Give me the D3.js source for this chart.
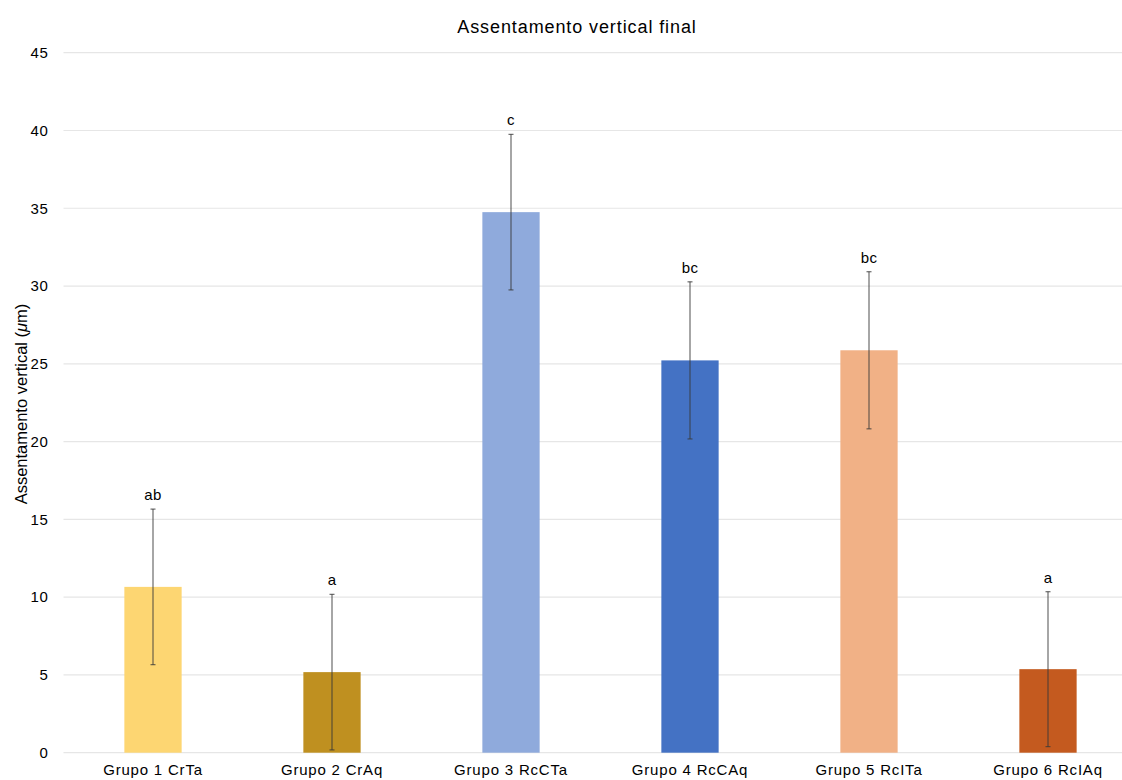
<!DOCTYPE html>
<html>
<head>
<meta charset="utf-8">
<script src="https://cdn.jsdelivr.net/npm/d3@7"></script>
<style>
  html, body { margin: 0; padding: 0; background: #fff; }
  svg { display: block; font-family: "Liberation Sans", Arial, Helvetica, sans-serif; }
</style>
</head>
<body>
<svg id="chart" width="1122" height="780"></svg>
<script>
// Group means, standard deviations and significance letters
const groups = ["Grupo 1 CrTa", "Grupo 2 CrAq", "Grupo 3 RcCTa", "Grupo 4 RcCAq", "Grupo 5 RcITa", "Grupo 6 RcIAq"];
const means = [10.66, 5.18, 34.75, 25.22, 25.87, 5.37];
const errors = [5.0, 5.0, 5.0, 5.05, 5.05, 4.98];
const letters = ["ab", "a", "c", "bc", "bc", "a"];
const colors = ["#FDD672", "#BF9020", "#8FAADC", "#4472C4", "#F1B186", "#C45A1F"];
const yTicks = [0, 5, 10, 15, 20, 25, 30, 35, 40, 45];

const svg = d3.select("#chart");
const W = 1122, H = 780;
const margin = { left: 63.5, right: -15.5, top: 52.7, bottom: 27.3 };

const x = d3.scaleBand()
  .domain(groups)
  .range([margin.left, W - margin.right])
  .paddingInner(0.68)
  .paddingOuter(0.34);

const y = d3.scaleLinear()
  .domain([0, 45])
  .range([H - margin.bottom, margin.top]);

// Horizontal gridlines
svg.append("g")
  .selectAll("line")
  .data(yTicks)
  .join("line")
  .attr("x1", margin.left)
  .attr("x2", W - margin.right)
  .attr("y1", d => y(d))
  .attr("y2", d => y(d))
  .attr("stroke", "#e6e6e6")
  .attr("stroke-width", 1.2);

// Y axis tick labels
const yAxis = d3.axisLeft(y).tickValues(yTicks).tickSize(0).tickPadding(15);
const gy = svg.append("g")
  .attr("transform", `translate(${margin.left},0)`)
  .call(yAxis);
gy.select(".domain").remove();
gy.selectAll("text")
  .attr("font-size", 15)
  .attr("letter-spacing", 0.6)
  .attr("fill", "#000")
  .style("font-family", "'Liberation Sans', Arial, sans-serif");

// Bars
svg.append("g")
  .selectAll("rect")
  .data(groups)
  .join("rect")
  .attr("x", d => x(d))
  .attr("width", x.bandwidth())
  .attr("y", (d, i) => y(means[i]))
  .attr("height", (d, i) => y(0) - y(means[i]))
  .attr("fill", (d, i) => colors[i]);

// Error bars
const eb = svg.append("g")
  .attr("stroke", "#3a3a3a")
  .attr("stroke-opacity", 0.75)
  .attr("stroke-width", 1.2);
groups.forEach((g, i) => {
  const cx = x(g) + x.bandwidth() / 2;
  const hi = y(means[i] + errors[i]);
  const lo = y(means[i] - errors[i]);
  eb.append("line").attr("x1", cx).attr("x2", cx).attr("y1", hi).attr("y2", lo);
  eb.append("line").attr("x1", cx - 2.5).attr("x2", cx + 2.5).attr("y1", hi).attr("y2", hi);
  eb.append("line").attr("x1", cx - 2.5).attr("x2", cx + 2.5).attr("y1", lo).attr("y2", lo);
});

// Significance letters
svg.append("g")
  .selectAll("text")
  .data(groups)
  .join("text")
  .attr("x", d => x(d) + x.bandwidth() / 2)
  .attr("y", (d, i) => y(means[i] + errors[i]) - 9)
  .attr("text-anchor", "middle")
  .attr("font-size", 15)
  .attr("letter-spacing", 0.4)
  .attr("fill", "#000")
  .text((d, i) => letters[i]);

// X axis category labels
const xAxis = d3.axisBottom(x).tickSize(0).tickPadding(12);
const gx = svg.append("g")
  .attr("transform", `translate(0,${y(0)})`)
  .call(xAxis);
gx.select(".domain").remove();
gx.selectAll("text")
  .attr("font-size", 15)
  .attr("letter-spacing", 0.8)
  .attr("fill", "#000")
  .style("font-family", "'Liberation Sans', Arial, sans-serif");

// Title
svg.append("text")
  .attr("x", 577)
  .attr("y", 32.5)
  .attr("text-anchor", "middle")
  .attr("font-size", 18)
  .attr("letter-spacing", 0.9)
  .attr("fill", "#000")
  .text("Assentamento vertical final");

// Y axis title
const yt = svg.append("text")
  .attr("transform", `translate(27,404) rotate(-90)`)
  .attr("text-anchor", "middle")
  .attr("font-size", 16.5)
  .attr("fill", "#000");
yt.append("tspan").text("Assentamento vertical (");
yt.append("tspan").attr("font-style", "italic").text("μ");
yt.append("tspan").text("m)");
</script>
</body>
</html>
